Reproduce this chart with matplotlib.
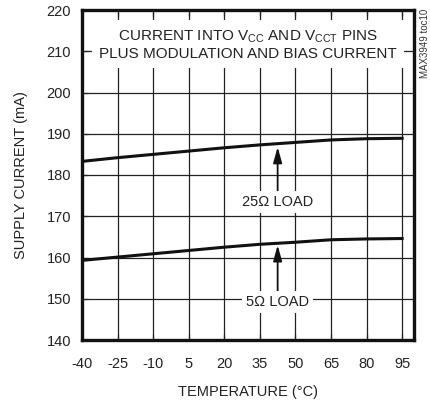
import numpy as np
import matplotlib.pyplot as plt

plt.rcParams['font.family'] = ['Liberation Sans', 'DejaVu Sans']
plt.rcParams['axes.unicode_minus'] = False

# temperature (°C) and supply current (mA)
temp = [-40, -25, -10, 5, 20, 35, 50, 65, 80, 95]
load25 = [183.3, 184.2, 185.0, 185.8, 186.6, 187.3, 187.9, 188.5, 188.8, 188.9]
load5 = [159.3, 160.1, 160.9, 161.7, 162.5, 163.2, 163.7, 164.3, 164.5, 164.6]
xticks = [-40, -25, -10, 5, 20, 35, 50, 65, 80, 95]
yticks = [140, 150, 160, 170, 180, 190, 200, 210, 220]

fig = plt.figure(figsize=(4.3, 4.04), dpi=100)
ax = fig.add_axes([82/430, 64/404, 332/430, 330/404])

ax.plot(temp, load25, color='#111111', lw=2.2, zorder=3)
ax.plot(temp, load5, color='#111111', lw=2.2, zorder=3)

ax.set_xlim(-40, 100)
ax.set_ylim(140, 220)
ax.set_xticks(xticks)
ax.set_yticks(yticks)
ax.grid(True, color='#222222', lw=0.9)
ax.tick_params(axis='both', length=0, labelsize=10.5, pad=8, colors='#222222')
ax.tick_params(top=True, direction='in', length=4, width=0.9)
ax.tick_params(axis='x', labeltop=False, pad=12)
for s in ax.spines.values():
    s.set_linewidth(2.4)
    s.set_color('#111111')

ax.set_xlabel('TEMPERATURE (°C)', fontsize=10.5, color='#222222', labelpad=10)
ax.set_ylabel('SUPPLY CURRENT (mA)', fontsize=10.5, color='#222222', labelpad=13)

ax.text(0.5, 0.895,
        'CURRENT INTO V$\\mathregular{_{CC}}$ AND V$\\mathregular{_{CCT}}$ PINS\n'
        'PLUS MODULATION AND BIAS CURRENT',
        transform=ax.transAxes, ha='center', va='center', fontsize=11,
        color='#222222', linespacing=1.2, zorder=5,
        bbox=dict(facecolor='white', edgecolor='none', pad=5))

arrow = dict(arrowstyle='-|>,head_length=0.9,head_width=0.25', color='#111111',
             lw=1.3, shrinkA=0, shrinkB=0)
ax.annotate('25Ω LOAD', xy=(42.5, 186.8), xytext=(42.5, 173.5), ha='center',
            va='center', fontsize=10.5, color='#222222', zorder=5,
            bbox=dict(facecolor='white', edgecolor='none', pad=3),
            arrowprops=arrow)
ax.annotate('5Ω LOAD', xy=(42.5, 163.0), xytext=(42.5, 149.2), ha='center',
            va='center', fontsize=10.5, color='#222222', zorder=5,
            bbox=dict(facecolor='white', edgecolor='none', pad=3),
            arrowprops=arrow)

fig.text(425/430, 1 - 9/404, 'MAX3949 toc10', rotation=90, ha='center',
         va='top', fontsize=7, color='#333333')

fig.savefig('out.png', dpi=100)
